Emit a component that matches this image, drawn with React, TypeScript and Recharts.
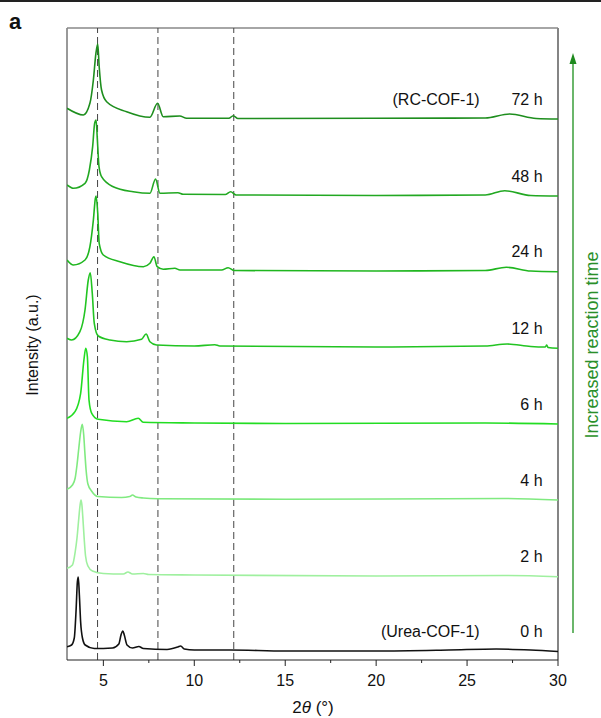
import React from 'react';
import { LineChart, Line, XAxis, YAxis, ReferenceLine, ReferenceDot } from 'recharts';

// 2θ ticks on the bottom axis (majors labelled, minors unlabelled)
const xTicks = [5, 7.5, 10, 12.5, 15, 17.5, 20, 22.5, 25, 27.5, 30];

// dashed guide positions (2θ)
const guideLines = [4.68, 8.0, 12.17];

// stacked patterns, [2θ, intensity] with offsets already included (a.u.)
const pattern0h = [
  [3.0, 13.3], [3.25, 15], [3.4, 22], [3.5, 50], [3.57, 78], [3.62, 83], [3.68, 65], [3.75, 38],
  [3.85, 22], [4.0, 15], [4.5, 11.5], [5.5, 12], [5.85, 16], [5.97, 25], [6.07, 29], [6.15, 25],
  [6.3, 15], [6.6, 12], [6.95, 13.5], [7.2, 11.5], [8.5, 10.5], [9.1, 13], [9.25, 14], [9.45, 11],
  [10, 10], [12, 10], [15, 9], [20, 9], [24, 10], [26.6, 11], [28.5, 10], [30, 8.5],
];
const pattern2h = [
  [3.0, 91.7], [3.3, 95], [3.45, 108], [3.55, 122], [3.65, 142], [3.72, 155], [3.77, 160], [3.82, 155],
  [3.88, 140], [3.95, 120], [4.02, 104], [4.15, 94], [4.4, 89], [5.0, 86.5], [6.1, 86], [6.35, 88],
  [6.6, 86], [7.2, 86.5], [7.5, 85.5], [10, 85], [20, 84], [27, 84.5], [30, 83.3],
];
const pattern4h = [
  [3.0, 170.7], [3.3, 175], [3.45, 182], [3.55, 195], [3.65, 212], [3.75, 228], [3.84, 235.7], [3.92, 225],
  [3.98, 208], [4.05, 190], [4.15, 176], [4.35, 169], [4.7, 163.5], [6.0, 162.5], [6.45, 163.5], [6.6, 165],
  [6.8, 163], [7.2, 162], [8, 161.3], [15, 160.7], [27, 161.5], [30, 160],
];
const pattern6h = [
  [3.0, 241.7], [3.44, 248.3], [3.75, 266.7], [3.93, 300], [4.03, 311.7], [4.12, 303.3], [4.21, 260],
  [4.36, 246.7], [4.72, 240.7], [6.28, 238.3], [6.92, 241.7], [7.19, 237.7], [10, 237], [15, 236.5],
  [26, 237], [30, 236],
];
const pattern12h = [
  [3.0, 321.7], [3.26, 320], [3.71, 328.3], [3.99, 350], [4.17, 380], [4.28, 387.3], [4.39, 366.7],
  [4.5, 336.7], [4.72, 324], [5.36, 320], [6.28, 318.3], [7.1, 320.7], [7.35, 326], [7.56, 318.3],
  [7.93, 315], [10, 314], [11.13, 315.3], [11.4, 314], [20, 313], [26, 314], [27.2, 316], [28.5, 313.5],
  [29.3, 313], [29.38, 315], [29.45, 312.5], [30, 311.7],
];
const pattern24h = [
  [3.0, 400], [3.35, 395], [3.99, 400], [4.26, 413.3], [4.45, 440], [4.56, 461.7], [4.6, 464],
  [4.69, 446.7], [4.77, 416.7], [5.0, 405], [5.91, 398.3], [7.2, 393.3], [7.56, 396.7], [7.78, 403.3],
  [7.96, 393.3], [8.29, 390.7], [8.93, 391.7], [9.21, 390], [11.5, 390], [11.86, 392.3], [12.2, 389.5],
  [20, 389], [26, 389.5], [27.16, 392.7], [28.5, 389], [30, 388.3],
];
const pattern48h = [
  [3.0, 475], [3.35, 471.7], [3.99, 476.7], [4.23, 490], [4.41, 513.3], [4.52, 536.7], [4.6, 540],
  [4.67, 520], [4.76, 493.3], [4.9, 483.3], [5.54, 473.3], [6.64, 468.3], [7.56, 466.7], [7.87, 481],
  [8.11, 466.7], [9.1, 467.3], [9.39, 465.7], [11.7, 465.5], [12.0, 468.3], [12.3, 465], [20, 464.5],
  [26, 465], [27.07, 469.3], [28.5, 464.5], [30, 464],
];
const pattern72h = [
  [3.0, 551.7], [3.9, 545], [4.26, 556.7], [4.45, 580], [4.59, 606.7], [4.69, 616], [4.77, 593.3],
  [4.9, 570], [5.18, 558.3], [6.28, 548.3], [7.56, 542.7], [7.98, 556.7], [8.29, 543.3], [9.2, 544],
  [9.58, 541.7], [11.9, 541.7], [12.14, 544.3], [12.4, 541.5], [20, 541.7], [26, 542], [27.34, 546],
  [28.8, 541.5], [30, 541],
];

const times = ['0 h', '2 h', '4 h', '6 h', '12 h', '24 h', '48 h', '72 h'];
const sampleNames = ['(Urea-COF-1)', '', '', '', '', '', '', '(RC-COF-1)'];
const patterns = [pattern0h, pattern2h, pattern4h, pattern6h, pattern12h, pattern24h, pattern48h, pattern72h];
const colors = ['#111111', '#9ff09f', '#80ea80', '#22dd22', '#22c422', '#1fb61f', '#22a822', '#1e8e1e'];

const FONT = '"Liberation Sans", Arial, sans-serif';

const XTick = (props: any) => {
  const { x, y, payload } = props;
  const v = payload.value;
  const major = v % 5 === 0;
  return (
    <g>
      <line x1={x} x2={x} y1={y} y2={y + (major ? 6 : 3)} stroke="#222" strokeWidth={1} />
      {major && (
        <text x={x} y={y + 26} textAnchor="middle" fontSize={16} fill="#111" fontFamily={FONT}>
          {v}
        </text>
      )}
    </g>
  );
};

const textLabel = (text: string) => (p: any) => (
  <text
    x={p.viewBox.x}
    y={p.viewBox.y}
    textAnchor="end"
    dominantBaseline="central"
    fontSize={16}
    fill="#111"
    fontFamily={FONT}
  >
    {text}
  </text>
);

export default function App() {
  const series = patterns.map((pts, i) => ({
    time: times[i],
    name: sampleNames[i],
    color: colors[i],
    data: pts.map(([x, y]) => ({ x, y })),
    end: pts[pts.length - 1][1],
  }));

  return (
    <div style={{ position: 'absolute', left: 0, top: 0, width: 601, height: 718, background: '#fff', fontFamily: FONT }}>
      <div style={{ position: 'absolute', left: 0, top: 0, width: 601, height: 2, background: '#222' }} />
      <LineChart width={601} height={718} margin={{ top: 28, right: 43, bottom: 28, left: 67 }}>
        <XAxis
          type="number"
          dataKey="x"
          domain={[3, 30]}
          ticks={xTicks}
          allowDataOverflow
          height={30}
          tickSize={0}
          tickMargin={0}
          tickLine={false}
          axisLine={{ stroke: '#222', strokeWidth: 1.2 }}
          tick={<XTick />}
        />
        <YAxis type="number" dataKey="y" domain={[0, 632]} hide allowDataOverflow />
        <ReferenceLine x={3} stroke="#555" strokeWidth={1.2} />
        <ReferenceLine x={30} stroke="#333" strokeWidth={1.2} />
        <ReferenceLine y={632} stroke="#888" strokeWidth={1.5} />
        {guideLines.map(g => (
          <ReferenceLine key={g} x={g} stroke="#444" strokeWidth={1} strokeDasharray="7 4" />
        ))}
        {series.map(s => (
          <Line
            key={s.time}
            data={s.data}
            dataKey="y"
            type="monotone"
            stroke={s.color}
            strokeWidth={1.6}
            dot={false}
            isAnimationActive={false}
          />
        ))}
        {series.map(s => (
          <ReferenceDot
            key={'t' + s.time}
            x={29.15}
            y={s.end + 20}
            r={0}
            fill="none"
            stroke="none"
            label={textLabel(s.time)}
          />
        ))}
        {series.filter(s => s.name).map(s => (
          <ReferenceDot
            key={'n' + s.time}
            x={25.69}
            y={s.end + 20}
            r={0}
            fill="none"
            stroke="none"
            label={textLabel(s.name)}
          />
        ))}
      </LineChart>
      <svg width={601} height={718} style={{ position: 'absolute', left: 0, top: 0, pointerEvents: 'none' }}>
        <text x={9} y={29} fontSize={22} fontWeight="bold" fill="#111" fontFamily={FONT}>a</text>
        <text transform="translate(37.5,345) rotate(-90)" textAnchor="middle" fontSize={16} fill="#111" fontFamily={FONT}>
          Intensity (a.u.)
        </text>
        <text x={313} y={713} textAnchor="middle" fontSize={17} fill="#111" fontFamily={FONT}>
          2<tspan fontStyle="italic">θ</tspan> (°)
        </text>
        <line x1={573} x2={573} y1={62} y2={633} stroke="#3a9e3a" strokeWidth={1.5} />
        <polygon points="573,53 569.5,64 576.5,64" fill="#1e8a1e" />
        <text transform="translate(598,345) rotate(-90)" textAnchor="middle" fontSize={18} fill="#2a8f2a" fontFamily={FONT}>
          Increased reaction time
        </text>
      </svg>
    </div>
  );
}
